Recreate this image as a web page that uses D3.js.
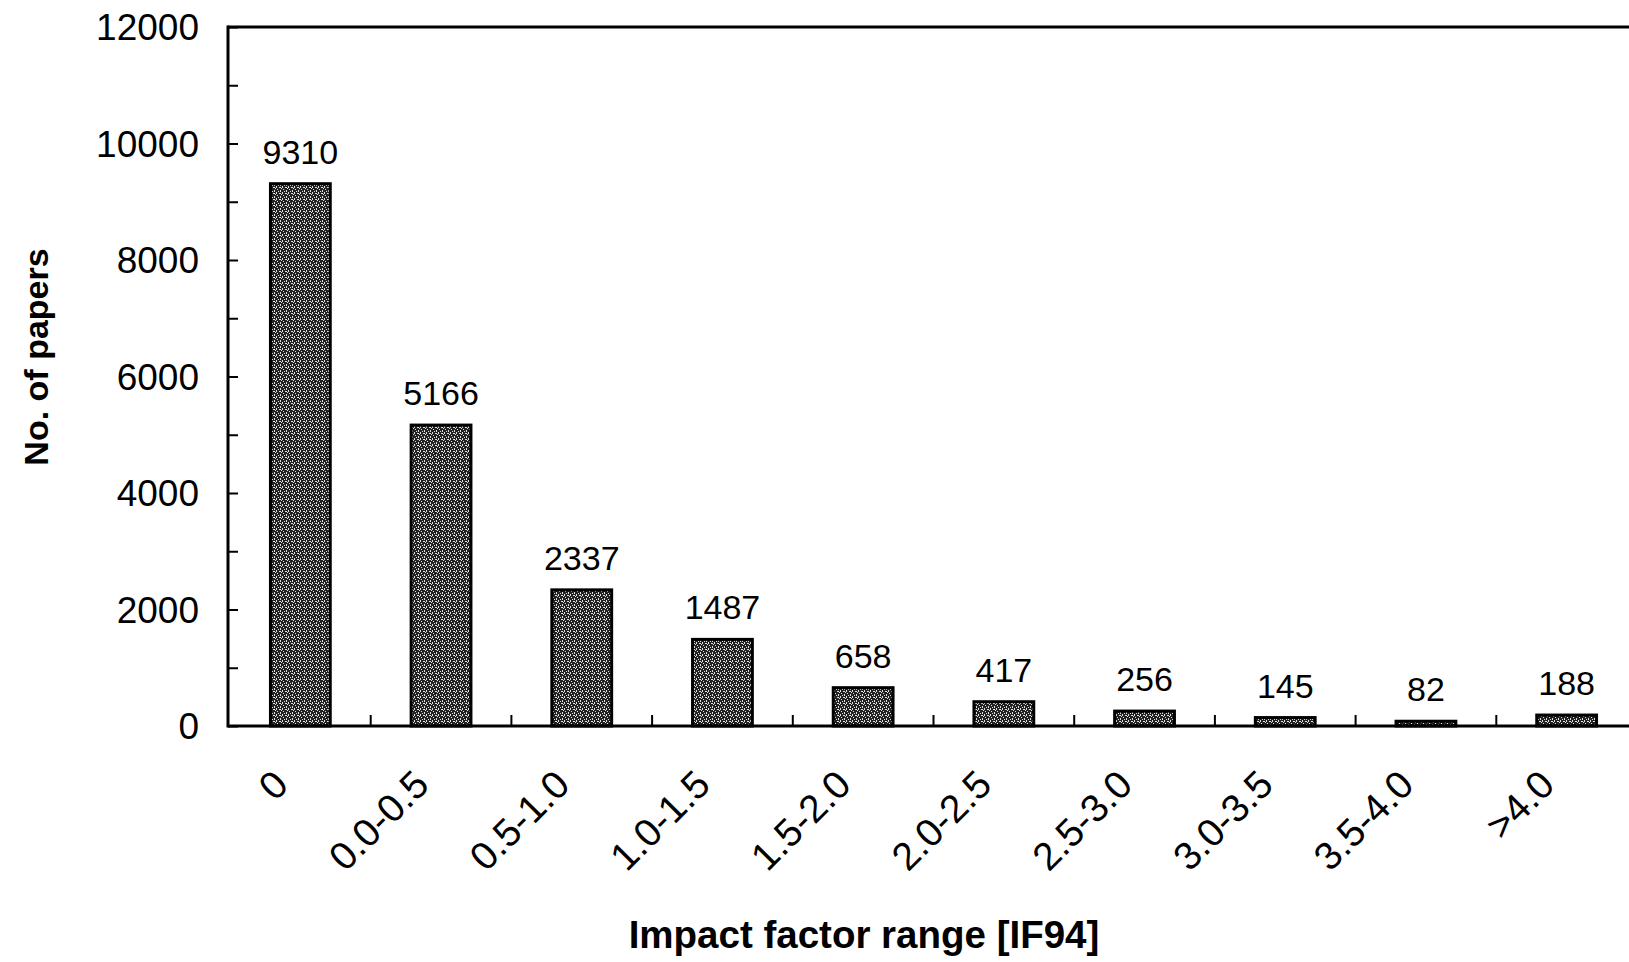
<!DOCTYPE html>
<html>
<head>
<meta charset="utf-8">
<script src="https://cdn.jsdelivr.net/npm/d3@7"></script>
<style>
  html, body { margin: 0; padding: 0; background: #fff; }
  svg { display: block; }
  text { font-family: "Liberation Sans", Arial, Helvetica, sans-serif; fill: #000; }
</style>
</head>
<body>
<svg id="chart" width="1629" height="962"></svg>
<script>
const categories = ["0", "0.0-0.5", "0.5-1.0", "1.0-1.5", "1.5-2.0", "2.0-2.5", "2.5-3.0", "3.0-3.5", "3.5-4.0", ">4.0"];
const papers = [9310, 5166, 2337, 1487, 658, 417, 256, 145, 82, 188];
const yTickLabels = [0, 2000, 4000, 6000, 8000, 10000, 12000];
const yMinorTicks = d3.range(0, 12001, 1000);
const xTitle = "Impact factor range [IF94]";
const yTitle = "No. of papers";

const svg = d3.select("#chart");
const W = 1629, H = 962;
const axisX = 228, zeroY = 726, topY = 27;
const bandStart = 230, bandWidth = 140.7;

const x = d3.scaleBand()
  .domain(categories)
  .range([bandStart, bandStart + bandWidth * categories.length])
  .paddingInner(0.575)
  .paddingOuter(0.2875);

const y = d3.scaleLinear().domain([0, 12000]).range([zeroY, topY]);

// texture pattern for bars
const defs = svg.append("defs");
const pat = defs.append("pattern")
  .attr("id", "stipple").attr("patternUnits", "userSpaceOnUse")
  .attr("width", 6).attr("height", 6);
pat.append("rect").attr("width", 6).attr("height", 6).attr("fill", "#222");
[[0,0,1,2],[3,1,2,1],[1,3,1,1],[4,4,1,2],[2,5,1,1],[5,2,1,1]].forEach(([a,b,w,h]) => {
  pat.append("rect").attr("x", a).attr("y", b).attr("width", w).attr("height", h).attr("fill", "#e0e0e0");
});

// frame: top border
svg.append("line").attr("x1", axisX).attr("x2", W + 10).attr("y1", topY).attr("y2", topY)
  .attr("stroke", "#000").attr("stroke-width", 3);

// bars
svg.append("g").selectAll("rect").data(papers).join("rect")
  .attr("x", (d, i) => x(categories[i]))
  .attr("y", d => y(d))
  .attr("width", x.bandwidth())
  .attr("height", d => y(0) - y(d))
  .attr("fill", "url(#stipple)")
  .attr("stroke", "#000").attr("stroke-width", 3);

// y axis
const yAxis = d3.axisRight(y).tickValues(yMinorTicks).tickSize(10).tickFormat("");
const gy = svg.append("g").attr("transform", `translate(${axisX},0)`).call(yAxis);
gy.select(".domain").remove();
gy.selectAll(".tick line").attr("stroke", "#000").attr("stroke-width", 2);
svg.append("line").attr("x1", axisX).attr("x2", axisX).attr("y1", topY - 1.5).attr("y2", zeroY + 1.5)
  .attr("stroke", "#000").attr("stroke-width", 3);

svg.append("g").selectAll("text").data(yTickLabels).join("text")
  .attr("x", 199).attr("y", d => y(d)).attr("dy", "0.36em")
  .attr("text-anchor", "end").attr("font-size", 37)
  .text(d => d);

// x axis ticks (band boundaries)
const boundaries = categories.slice(1).map(c => x(c) - x.step() * x.paddingInner() / 2);
svg.append("g").selectAll("line").data(boundaries).join("line")
  .attr("x1", d => d).attr("x2", d => d).attr("y1", zeroY).attr("y2", zeroY - 11)
  .attr("stroke", "#000").attr("stroke-width", 2);
svg.append("line").attr("x1", axisX).attr("x2", W + 10).attr("y1", zeroY).attr("y2", zeroY)
  .attr("stroke", "#000").attr("stroke-width", 3);

// x labels
svg.append("g").selectAll("text").data(categories).join("text")
  .attr("transform", c => `translate(${x(c) + x.bandwidth() / 2 - 10},${zeroY + 61}) rotate(-45)`)
  .attr("text-anchor", "end").attr("font-size", 39)
  .text(c => c);

// value labels
svg.append("g").selectAll("text").data(papers).join("text")
  .attr("x", (d, i) => x(categories[i]) + x.bandwidth() / 2)
  .attr("y", d => y(d) - 20)
  .attr("text-anchor", "middle").attr("font-size", 34)
  .text(d => d);

// axis titles
svg.append("text").attr("x", 864).attr("y", 948).attr("text-anchor", "middle")
  .attr("font-size", 38.5).attr("font-weight", "bold").text(xTitle);
svg.append("text").attr("transform", `translate(48,357) rotate(-90)`).attr("text-anchor", "middle")
  .attr("font-size", 34).attr("font-weight", "bold").text(yTitle);
</script>
</body>
</html>
